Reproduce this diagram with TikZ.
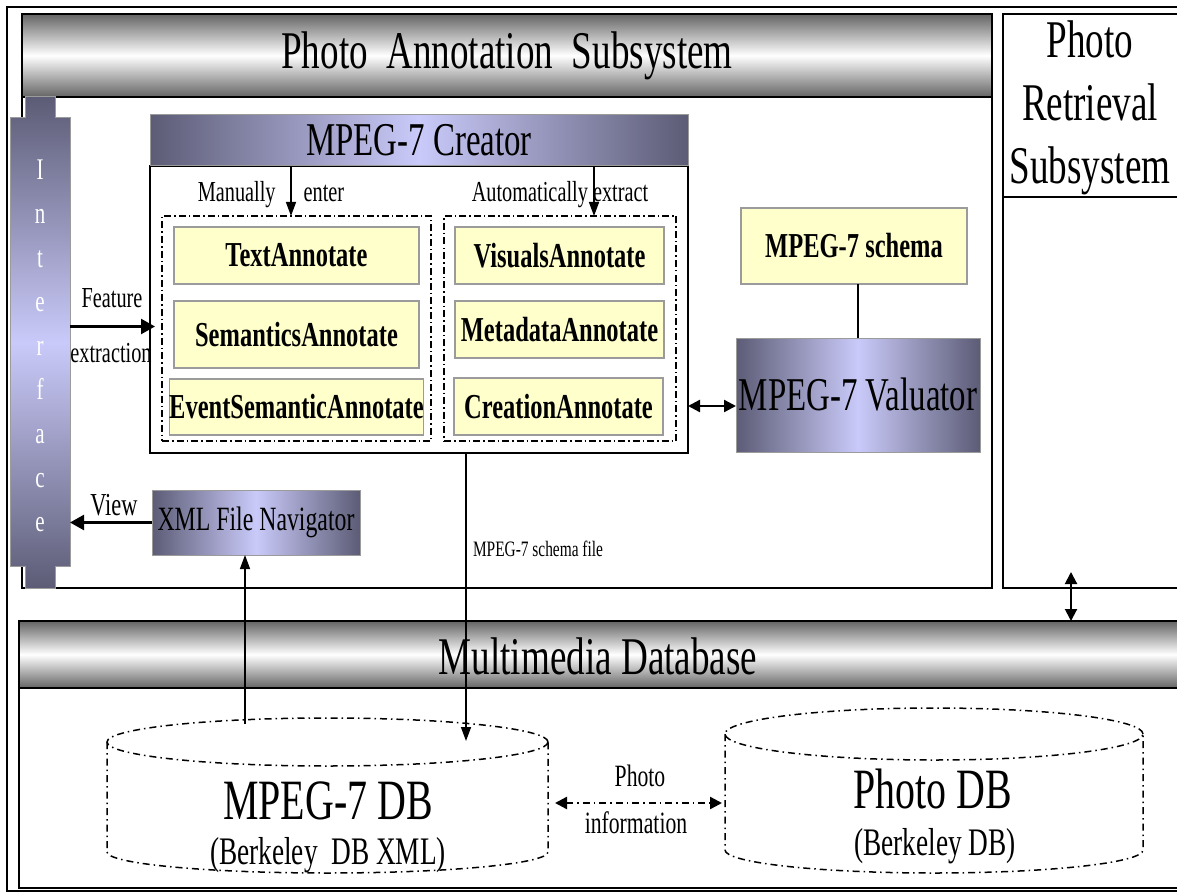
\documentclass[tikz,border=0pt]{standalone}
\usepackage{fontspec}
\setmainfont{Liberation Serif}[FakeStretch=0.7]
\usetikzlibrary{arrows.meta,calc}
\definecolor{lav}{RGB}{202,202,250}
\definecolor{lavdark}{RGB}{92,92,118}
\definecolor{bargray}{RGB}{100,100,100}
\definecolor{noteyellow}{RGB}{255,255,204}
\definecolor{edgegray}{RGB}{155,155,155}
\begin{document}
\begin{tikzpicture}[x=1pt,y=-1pt,
  frame/.style={draw=black, line width=1.6pt, inner sep=0pt, outer sep=0pt},
  bar/.style={frame, top color=bargray, bottom color=bargray, middle color=white},
  lavbox/.style={draw=edgegray, line width=1pt, left color=lavdark, right color=lavdark, middle color=lav, inner sep=0pt, outer sep=0pt},
  note/.style={draw=edgegray, line width=1.3pt, fill=noteyellow, inner sep=0pt, outer sep=0pt, font=\fontsize{35}{36}\selectfont\bfseries},
  group/.style={draw=black, line width=1.1pt, dash pattern=on 7pt off 3pt on 1.5pt off 3pt, inner sep=0pt, outer sep=0pt},
  dbline/.style={draw=black, line width=1.5pt, dash pattern=on 7pt off 4pt on 1.5pt off 4pt},
  ghost/.style={inner sep=0pt, outer sep=0pt},
  arr/.style={-{Triangle[length=14pt,width=10pt]}, line width=1.5pt},
  bigarr/.style={-{Triangle[length=14pt,width=15pt]}, line width=2.4pt},
  dblarr/.style={{Triangle[length=12pt,width=12pt]}-{Triangle[length=12pt,width=12pt]}, line width=2.4pt},
  lbl/.style={inner sep=0pt, font=\fontsize{29}{30}\selectfont}]
\useasboundingbox (0,0) rectangle (1177,893);
\clip (0,0) rectangle (1177,893);

% outer frame
\draw[line width=1.6pt] (7,7) rectangle (1200,891);

% annotation subsystem
\node[frame, minimum width=970pt, minimum height=574pt] (annBox) at (507,301) {};
\node[bar, minimum width=970pt, minimum height=83pt, font=\fontsize{53}{60}\selectfont] (annHead) at (507,55.5) {Photo\ \ Annotation\ \ Subsystem};

% retrieval subsystem
\node[frame, minimum width=190pt, minimum height=574pt] (retrBox) at (1098,301) {};
\node[ghost, font=\fontsize{53}{63}\selectfont, align=center] (retrTitle) at (1090,108) {Photo\\Retrieval\\Subsystem};
\draw[line width=1.6pt] ([yshift=-183pt]retrBox.north west) -- ([yshift=-183pt]retrBox.north east);

% interface column
\shadedraw[draw=edgegray, line width=1pt, top color=lavdark, bottom color=lavdark, middle color=lav]
  (25,97) -- (55,97) -- (55,118) -- (70,118) -- (70,566) -- (55,566) -- (55,588) -- (25,588)
  -- (25,566) -- (10,566) -- (10,118) -- (25,118) -- cycle;
\node[ghost, minimum width=60pt, minimum height=448pt] (iface) at (40,342) {};
\node[ghost, text=white, align=center, font=\fontsize{30}{44}\selectfont] (ifaceText) at ([yshift=-4pt]iface.center) {I\\n\\t\\e\\r\\f\\a\\c\\e};

% MPEG-7 creator
\node[frame, minimum width=538pt, minimum height=287pt] (crBody) at (419,309.5) {};
\node[lavbox, minimum width=538pt, minimum height=51pt, font=\fontsize{47}{50}\selectfont] (crTitle) at (419,140.5) {MPEG-7 Creator};

\node[group, minimum width=269pt, minimum height=225pt] (grpL) at (296.5,328.5) {};
\node[group, minimum width=232pt, minimum height=225pt] (grpR) at (560,328.5) {};

\node[note, minimum width=245pt, minimum height=57pt] (textAnn) at (296.5,255.5) {TextAnnotate};
\node[note, minimum width=245pt, minimum height=67pt] (semAnn) at (296.5,334.5) {SemanticsAnnotate};
\node[note, minimum width=245pt, minimum height=56pt] (evtAnn) at (296.5,407) {EventSemanticAnnotate};
\node[note, minimum width=209pt, minimum height=57pt] (visAnn) at (559.5,255.5) {VisualsAnnotate};
\node[note, minimum width=209pt, minimum height=57pt] (metaAnn) at (559.5,329.5) {MetadataAnnotate};
\node[note, minimum width=209pt, minimum height=57pt] (creAnn) at (558.5,406.5) {CreationAnnotate};

\node[lbl] (manLbl) at (271,195) {Manually\hspace{28pt}enter};
\node[lbl] (autoLbl) at (560,195) {Automatically extract};

\coordinate (manX) at ([xshift=-5.5pt]grpL.north);
\draw[arr] (manX |- crTitle.south) -- (manX);
\coordinate (autoX) at ([xshift=34pt]grpR.north);
\draw[arr] (autoX |- crTitle.south) -- (autoX);

% feature extraction
\node[lbl] (featLbl) at (112,298) {Feature};
\node[lbl] (extrLbl) at (111,353) {extraction};
\coordinate (featY) at ([yshift=-17pt]crBody.west);
\draw[bigarr] (featY -| iface.east) -- ([xshift=5pt]featY);

% schema and valuator
\node[note, minimum width=226pt, minimum height=76pt] (schema) at (854,246) {MPEG-7 schema};
\node[lavbox, minimum width=244pt, minimum height=114pt, font=\fontsize{47}{50}\selectfont] (val) at (858,395) {MPEG-7 Valuator};
\draw[line width=1.2pt] (val.north |- schema.south) -- (val.north);
\coordinate (valY) at ([yshift=-11pt]val.west);
\draw[dblarr] (valY -| crBody.east) -- (valY);

% navigator
\node[lavbox, minimum width=208pt, minimum height=65pt, font=\fontsize{34}{36}\selectfont] (nav) at (256,522.5) {XML File Navigator};
\node[ghost, font=\fontsize{32}{34}\selectfont] (viewLbl) at (114,505) {View};
\draw[bigarr] (nav.west) -- (nav.west -| iface.east);

\node[ghost, font=\fontsize{22}{24}\selectfont] (sfLbl) at (538,549) {MPEG-7 schema file};

% multimedia database
\node[frame, minimum width=1180pt, minimum height=200pt] (dbBody) at (609,788) {};
\node[bar, minimum width=1180pt, minimum height=67pt] (dbHead) at (609,654.5) {};
\node[ghost, font=\fontsize{53}{60}\selectfont] (dbTitle) at (598,656) {Multimedia Database};

% database cylinders
\draw[dbline] (327.5,742) ellipse [x radius=220.5pt, y radius=24pt];
\draw[dbline] (107,742) -- (107,852) arc[start angle=180, end angle=360, x radius=220.5pt, y radius=21pt] -- (548,742);
\draw[dbline] (934,734) ellipse [x radius=209pt, y radius=26pt];
\draw[dbline] (725,734) -- (725,850) arc[start angle=180, end angle=360, x radius=209pt, y radius=23pt] -- (1143,734);

\node[ghost, minimum width=441pt, minimum height=110pt] (db1) at (327.5,797) {};
\node[ghost, minimum width=418pt, minimum height=110pt] (db2) at (934,797) {};
\coordinate (db1top) at (327.5,724);
\coordinate (db1arr) at (327.5,741);

\node[ghost, font=\fontsize{57}{60}\selectfont] (db1Name) at (328,801) {MPEG-7 DB};
\node[ghost, font=\fontsize{39}{42}\selectfont] (db1Sub) at (328,855) {(Berkeley\ \ DB XML)};
\node[ghost, font=\fontsize{57}{60}\selectfont] (db2Name) at (933,789) {Photo DB};
\node[ghost, font=\fontsize{39}{42}\selectfont] (db2Sub) at (935,846) {(Berkeley DB)};

\node[ghost, font=\fontsize{31}{34}\selectfont] (piTop) at (640,776) {Photo};
\node[ghost, font=\fontsize{31}{34}\selectfont] (piBot) at (636,823) {information};
\coordinate (piY) at ([yshift=-6pt]db1.east);
\draw[dblarr, dash pattern=on 7pt off 4pt on 1.5pt off 4pt] ([xshift=7pt]piY) -- ([xshift=-3pt]piY -| db2.west);

% connectors crossing the database header
\coordinate (navX) at ([xshift=-11pt]nav.south);
\draw[arr] (navX |- db1top) -- (navX);
\coordinate (sfX) at ([xshift=47pt]crBody.south);
\draw[arr] (sfX) -- (sfX |- db1arr);

\coordinate (rdX) at ([xshift=-27pt,yshift=16pt]retrBox.south);
\draw[dblarr, line width=2pt] (rdX) -- (rdX |- dbHead.north);
\end{tikzpicture}
\end{document}
